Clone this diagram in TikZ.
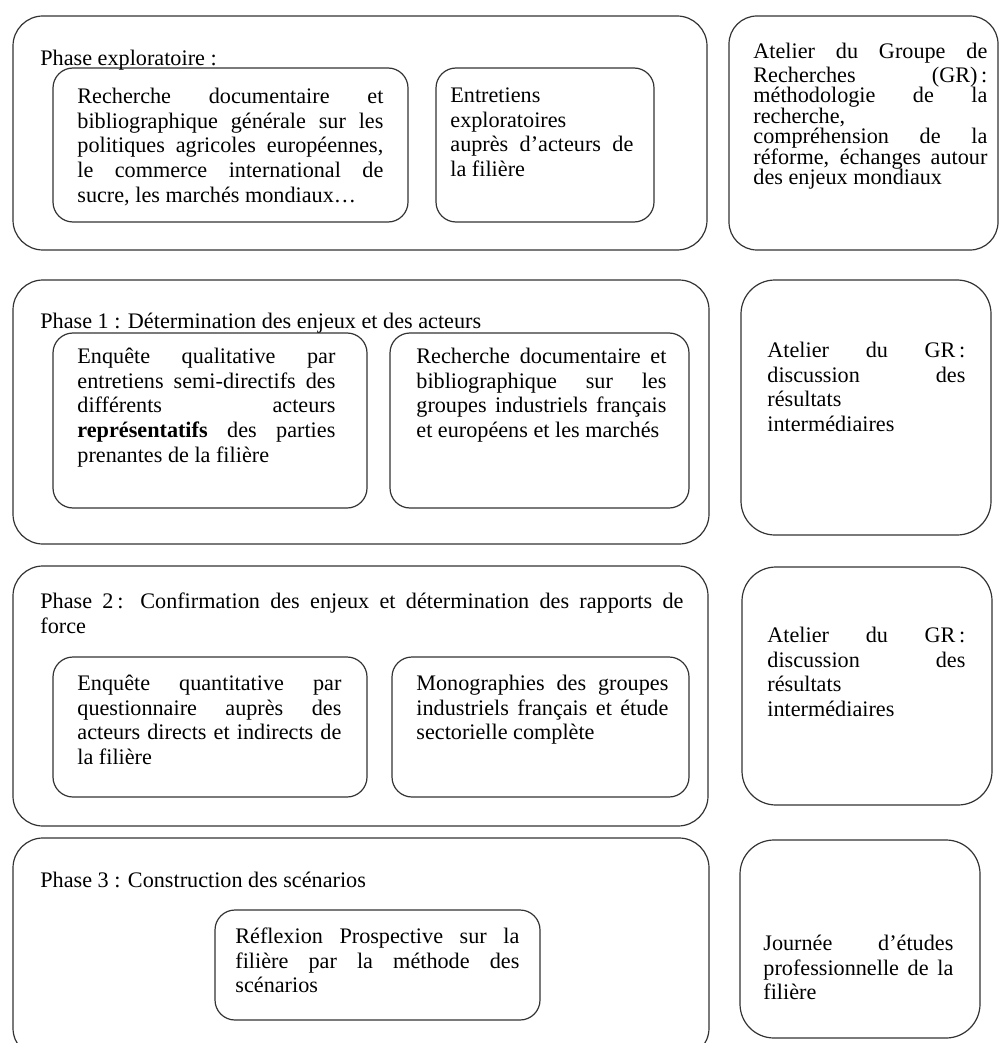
\documentclass[tikz,border=0pt]{standalone}
\usepackage{fontspec}
\setmainfont{Liberation Serif}
\usepackage{tikz}
\usetikzlibrary{fit}
\hyphenpenalty=10000
\exhyphenpenalty=10000

\tikzset{
  phasebox/.style={draw=black!80, line width=0.6pt, rounded corners=15pt, inner sep=0pt},
  taskbox/.style={draw=black!80, line width=0.6pt, rounded corners=10pt, inner sep=0pt},
  grbox/.style={draw=black!80, line width=0.6pt, rounded corners=17pt, inner sep=0pt},
  lbl/.style={anchor=north west, inner sep=0pt, font=\fontsize{11.1}{12.3}\selectfont, execute at begin node=\strut},
  txt/.style={anchor=north west, inner sep=0pt, align=justify, font=\fontsize{11.1}{12.3}\selectfont, execute at begin node={\parindent0pt\tolerance10000\leavevmode\strut}},
  tighttxt/.style={txt, font=\fontsize{11.1}{10.25}\selectfont}
}

\begin{document}
\begin{tikzpicture}[x=0.5pt, y=-0.5pt]
\useasboundingbox (0,0) rectangle (1000,1043);

\node[phasebox, fit={(13,16) (707,250)}] (phase0) {};
\node[taskbox, fit={(53,68) (408,222)}] (biblio0) {};
\node[taskbox, fit={(436,68) (654,222)}] (entret0) {};
\node[grbox, rounded corners=14pt, fit={(729,16) (998,250)}] (atelier0) {};

\node[lbl] (phase0txt) at (40,48) {Phase exploratoire :};
\node[txt, text width=153pt] (biblio0txt) at (77,86) {Recherche documentaire et\linebreak bibliographique générale sur les\linebreak politiques agricoles européennes,\linebreak le commerce international de\linebreak sucre, les marchés mondiaux…};
\node[txt, text width=91.5pt] (entret0txt) at (450,85) {Entretiens\newline exploratoires\newline auprès d'acteurs de\linebreak la filière};
\node[tighttxt, text width=117pt] (atelier0txt) at (753,43) {Atelier du Groupe de\linebreak Recherches (GR)\,:\linebreak méthodologie de la\linebreak recherche,\newline compréhension de la\linebreak réforme, échanges autour\linebreak des enjeux mondiaux};

\node[phasebox, fit={(13,280) (709,544)}] (phase1) {};
\node[taskbox, fit={(53,333) (367,508)}] (enq1) {};
\node[taskbox, fit={(390,333) (689,508)}] (biblio1) {};
\node[grbox, fit={(741,280) (991,535)}] (atelier1) {};

\node[lbl] (phase1txt) at (40,311) {Phase 1 : Détermination des enjeux et des acteurs};
\node[txt, text width=129pt] (enq1txt) at (77,346) {Enquête qualitative par\linebreak entretiens semi-directifs des\linebreak différents acteurs\linebreak \textbf{représentatifs} des parties\linebreak prenantes de la filière};
\node[txt, text width=125pt] (biblio1txt) at (416,346) {Recherche documentaire et\linebreak bibliographique sur les\linebreak groupes industriels français\linebreak et européens et les marchés};
\node[txt, text width=99pt] (atelier1txt) at (767,340) {Atelier du GR\,:\linebreak discussion des\linebreak résultats\newline intermédiaires};

\node[phasebox, fit={(13,566) (708,826)}] (phase2) {};
\node[taskbox, fit={(53,657) (367,797)}] (enq2) {};
\node[taskbox, fit={(392,657) (689,797)}] (mono2) {};
\node[grbox, fit={(742,567) (992,805)}] (atelier2) {};

\node[txt, text width=321.5pt] (phase2txt) at (40,591) {Phase 2\,: Confirmation des enjeux et détermination des rapports de\linebreak force};
\node[txt, text width=132pt] (enq2txt) at (77,673) {Enquête quantitative par\linebreak questionnaire auprès des\linebreak acteurs directs et indirects de\linebreak la filière};
\node[txt, text width=126pt] (mono2txt) at (416,673) {Monographies des groupes\linebreak industriels français et étude\linebreak sectorielle complète};
\node[txt, text width=99pt] (atelier2txt) at (767,625) {Atelier du GR\,:\linebreak discussion des\linebreak résultats\newline intermédiaires};

\node[phasebox, fit={(13,838) (709,1058)}] (phase3) {};
\node[taskbox, fit={(215,910) (540,1020)}] (reflex3) {};
\node[grbox, fit={(740,840) (980,1038)}] (journee3) {};

\node[lbl] (phase3txt) at (40,870) {Phase 3 : Construction des scénarios};
\node[txt, text width=142pt] (reflex3txt) at (235,926) {Réflexion Prospective sur la\linebreak filière par la méthode des\linebreak scénarios};
\node[txt, text width=95pt] (journee3txt) at (763,933) {Journée d'études\linebreak professionnelle de la\linebreak filière};
\end{tikzpicture}
\end{document}
